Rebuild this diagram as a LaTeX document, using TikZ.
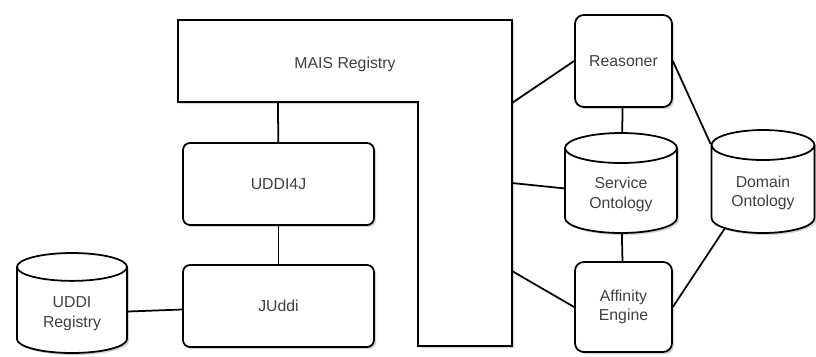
\documentclass[tikz,border=0pt]{standalone}
\usepackage{fontspec}
\setmainfont{Liberation Sans}
\usetikzlibrary{positioning, shapes.geometric, shadows}

\begin{document}
\begin{tikzpicture}[x=0.02cm, y=-0.02cm, every node/.style={font=\fontsize{9}{11}\selectfont, align=center, text=black!75}, link/.style={line width=1pt}]
        \tikzstyle{shade} = [drop shadow={opacity=0.35, shadow xshift=1.2pt, shadow yshift=-1.2pt}]
        \tikzstyle{module} = [rectangle, draw=black, line width=1pt, rounded corners=4pt, fill=white, shade]
        \tikzstyle{store} = [cylinder, shape border rotate=90, aspect=0.4, anchor=shape center, draw=black, line width=1pt, fill=white, shade]

        \useasboundingbox (0,0) rectangle (816,356);

        % MAIS registry (L shape)
        \draw[line width=1pt, fill=white, shade] (178,20) -- (512,20) -- (512,346) -- (418,346) -- (418,102) -- (178,102) -- cycle;
        \node (mais) at (345,64) {MAIS Registry};
        \coordinate (maisA) at (278,102);
        \coordinate (maisR1) at (512,103);
        \coordinate (maisR2) at (512,183);
        \coordinate (maisR3) at (512,271);

        \node[module, minimum width=3.82cm, minimum height=1.64cm] (uddi4j) at (278.5,184) {UDDI4J};
        \node[module, minimum width=3.82cm, minimum height=1.64cm] (juddi) at (278.5,306) {JUddi};
        \node[store, minimum width=2.2cm, minimum height=2.0cm] (uddireg) at (72,303) {UDDI\\Registry};

        \node[module, rounded corners=5pt, minimum width=1.94cm, minimum height=1.84cm] (reasoner) at (623.5,61) {Reasoner};
        \node[store, minimum width=2.24cm, minimum height=2.0cm] (serviceont) at (621,183) {Service\\Ontology};
        \node[module, rounded corners=5pt, minimum width=1.94cm, minimum height=1.8cm] (affinity) at (623.5,307) {Affinity\\Engine};
        \node[store, minimum width=2.06cm, minimum height=2.06cm] (domainont) at (763,181.5) {Domain\\Ontology};

        \draw[link] (maisA) -- (uddi4j);
        \draw[link] (uddi4j) -- (juddi);
        \draw[link] (uddireg) -- (juddi);

        \draw[link] (maisR1) -- (reasoner.west);
        \draw[link] (maisR2) -- (serviceont);
        \draw[link] (maisR3) -- (affinity.west);
        \draw[link] (reasoner) -- (serviceont);
        \draw[link] (serviceont) -- (affinity);
        \draw[link] (reasoner.east) -- (domainont.137);
        \draw[link] (affinity.east) -- (domainont.-137);
    \end{tikzpicture}
\end{document}
